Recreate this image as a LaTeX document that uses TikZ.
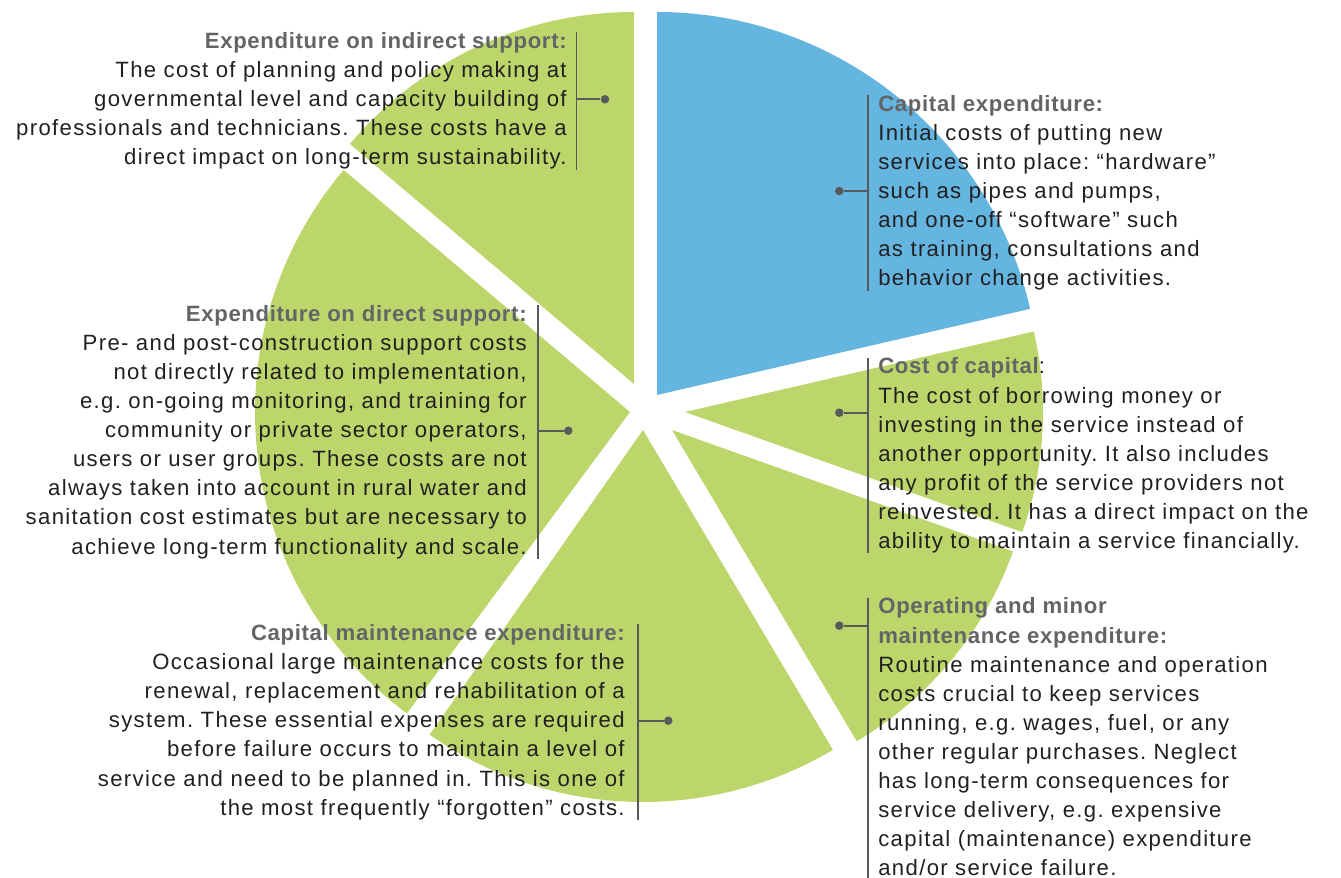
\documentclass[tikz,border=0pt]{standalone}
\usepackage{fontspec}
\setmainfont{Liberation Sans}[LetterSpace=6,BoldFeatures={LetterSpace=3}]
\definecolor{vert}{HTML}{BDD66B}
\definecolor{bleu}{HTML}{64B5E0}
\definecolor{titre}{HTML}{636466}
\definecolor{texte}{HTML}{231F20}
\definecolor{trait}{HTML}{58595B}
\frenchspacing
\begin{document}
\begin{tikzpicture}[x=0.02cm,y=0.02cm,
  bloc/.style={inner sep=0pt,font=\fontsize{12.6}{16.55}\selectfont,text=texte},
  barre/.style={draw=trait,line width=1.1pt},
  pastille/.style={circle,fill=trait,inner sep=0pt,minimum size=0.17cm}]
\useasboundingbox(0,0)rectangle(1341,878);
% Camembert
\fill[bleu](657,483)--++(13:383)arc(13:90:383)--cycle;
\fill[vert](634,494)--++(90:372)arc(90:139.8:372)--cycle;
\fill[vert](630,466)--++(139.8:375)arc(139.8:233.5:375)--cycle;
\fill[vert](643,448)--++(235:372)arc(235:300.7:372)--cycle;
\fill[vert](672,448)--++(300.7:362)arc(300.7:340.4:362)--cycle;
\fill[vert](685,466)--++(-19.6:358)arc(-19.6:13:358)--cycle;
% Textes de gauche
\node[bloc,align=right,anchor=north east](indirect)at(567,846){%
\textbf{\color{titre}Expenditure on indirect support:}\\
The cost of planning and policy making at\\
governmental level and capacity building of\\
professionals and technicians. These costs have a\\
direct impact on long-term sustainability.};
\node[bloc,align=right,anchor=north east](direct)at(527,573){%
\textbf{\color{titre}Expenditure on direct support:}\\
Pre- and post-construction support costs\\
not directly related to implementation,\\
e.g. on-going monitoring, and training for\\
community or private sector operators,\\
users or user groups. These costs are not\\
always taken into account in rural water and\\
sanitation cost estimates but are necessary to\\
achieve long-term functionality and scale.};
\node[bloc,align=right,anchor=north east](capmaint)at(625,253.7){%
\textbf{\color{titre}Capital maintenance expenditure:}\\
Occasional large maintenance costs for the\\
renewal, replacement and rehabilitation of a\\
system. These essential expenses are required\\
before failure occurs to maintain a level of\\
service and need to be planned in. This is one of\\
the most frequently “forgotten” costs.};
% Textes de droite
\node[bloc,align=left,anchor=north west](capex)at(878,783){%
\textbf{\color{titre}Capital expenditure:}\\
Initial costs of putting new\\
services into place: “hardware”\\
such as pipes and pumps,\\
and one-off “software” such\\
as training, consultations and\\
behavior change activities.};
\node[bloc,align=left,anchor=north west](capital)at(878,520.4){%
\textbf{\color{titre}Cost of capital}:\\
The cost of borrowing money or\\
investing in the service instead of\\
another opportunity. It also includes\\
any profit of the service providers not\\
reinvested. It has a direct impact on the\\
ability to maintain a service financially.};
\node[bloc,align=left,anchor=north west](operating)at(878,280.4){%
\textbf{\color{titre}Operating and minor}\\
\textbf{\color{titre}maintenance expenditure:}\\
Routine maintenance and operation\\
costs crucial to keep services\\
running, e.g. wages, fuel, or any\\
other regular purchases. Neglect\\
has long-term consequences for\\
service delivery, e.g. expensive\\
capital (maintenance) expenditure\\
and/or service failure.};
% Reperes
\node[pastille](indirect-pt)at(605,778.7){};
\node[pastille](direct-pt)at(568.3,447.3){};
\node[pastille](capmaint-pt)at(668.3,157.3){};
\node[pastille](capex-pt)at(839.3,687){};
\node[pastille](capital-pt)at(839.3,465.3){};
\node[pastille](operating-pt)at(839.3,252.3){};
\coordinate(indirect-b)at([xshift=0.19cm]indirect.north east);
\coordinate(direct-b)at([xshift=0.22cm]direct.north east);
\coordinate(capmaint-b)at([xshift=0.26cm]capmaint.north east);
\coordinate(capex-b)at([xshift=-0.2cm]capex.north west);
\coordinate(capital-b)at([xshift=-0.2cm]capital.north west);
\coordinate(operating-b)at([xshift=-0.2cm]operating.north west);
\draw[barre](indirect-b)--(indirect-b|-indirect.south)(indirect-pt)--(indirect-pt-|indirect-b);
\draw[barre](direct-b)--(direct-b|-direct.south)(direct-pt)--(direct-pt-|direct-b);
\draw[barre](capmaint-b)--(capmaint-b|-capmaint.south)(capmaint-pt)--(capmaint-pt-|capmaint-b);
\draw[barre](capex-b)--(capex-b|-capex.south)(capex-pt)--(capex-pt-|capex-b);
\draw[barre](capital-b)--(capital-b|-capital.south)(capital-pt)--(capital-pt-|capital-b);
\draw[barre](operating-b)--(operating-b|-0,0)(operating-pt)--(operating-pt-|operating-b);
\end{tikzpicture}
\end{document}
